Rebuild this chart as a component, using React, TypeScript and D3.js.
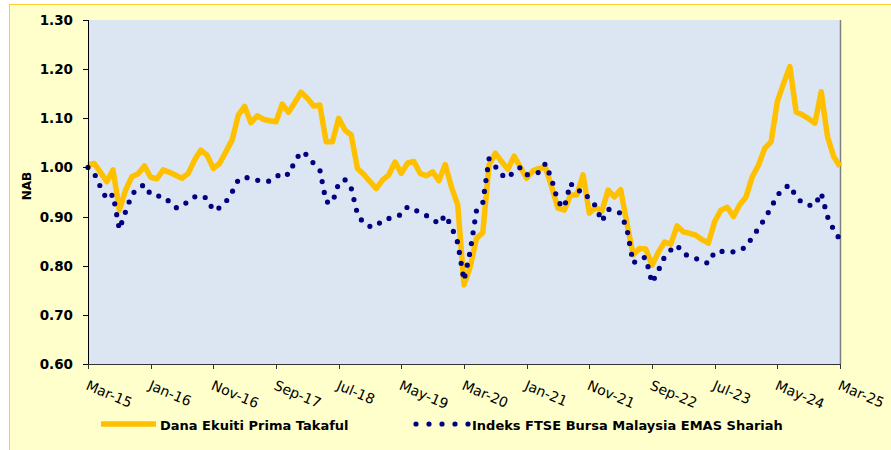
import React from "react";
import * as d3 from "d3";

// ---- data (monthly, Mar-15 .. Mar-25) ----
const tickLabels = [
  "Mar-15", "Jan-16", "Nov-16", "Sep-17", "Jul-18", "May-19", "Mar-20",
  "Jan-21", "Nov-21", "Sep-22", "Jul-23", "May-24", "Mar-25",
];
const yTicks = [0.6, 0.7, 0.8, 0.9, 1.0, 1.1, 1.2, 1.3];

const fundValues = [
  1.005, 1.008, 0.990, 0.971, 0.995, 0.913, 0.954, 0.981, 0.987, 1.003,
  0.980, 0.977, 0.995, 0.990, 0.984, 0.978, 0.988, 1.015, 1.035, 1.025,
  0.998, 1.008, 1.032, 1.056, 1.107, 1.124, 1.091, 1.105, 1.098, 1.095,
  1.093, 1.129, 1.112, 1.132, 1.153, 1.141, 1.125, 1.127, 1.052, 1.052,
  1.100, 1.076, 1.066, 0.998, 0.986, 0.971, 0.957, 0.974, 0.985, 1.011,
  0.988, 1.009, 1.012, 0.988, 0.983, 0.991, 0.973, 1.006, 0.960, 0.924,
  0.761, 0.798, 0.856, 0.867, 1.005, 1.029, 1.012, 0.996, 1.023, 1.000,
  0.978, 0.993, 0.998, 1.000, 0.960, 0.917, 0.913, 0.944, 0.944, 0.985,
  0.907, 0.918, 0.911, 0.954, 0.940, 0.955, 0.886, 0.822, 0.835, 0.834,
  0.801, 0.827, 0.848, 0.844, 0.881, 0.869, 0.866, 0.862, 0.853, 0.846,
  0.890, 0.913, 0.919, 0.900, 0.924, 0.940, 0.981, 1.005, 1.039, 1.052,
  1.134, 1.171, 1.205, 1.113, 1.107, 1.099, 1.090, 1.154, 1.063, 1.022,
  1.002,
];

const indexValues = [
  1.000, 0.988, 0.960, 0.935, 0.945, 0.874, 0.910, 0.945, 0.958, 0.965,
  0.945, 0.942, 0.941, 0.930, 0.918, 0.920, 0.932, 0.940, 0.943, 0.937,
  0.912, 0.918, 0.930, 0.950, 0.975, 0.980, 0.978, 0.974, 0.972, 0.972,
  0.980, 0.990, 0.985, 1.012, 1.032, 1.025, 1.008, 0.995, 0.930, 0.928,
  0.968, 0.975, 0.958, 0.905, 0.886, 0.880, 0.880, 0.893, 0.896, 0.900,
  0.904, 0.920, 0.915, 0.908, 0.902, 0.895, 0.885, 0.903, 0.880, 0.847,
  0.770, 0.830, 0.913, 0.928, 1.018, 1.002, 0.985, 0.978, 0.993, 1.000,
  0.985, 0.987, 0.990, 1.008, 0.975, 0.930, 0.918, 0.968, 0.952, 0.953,
  0.935, 0.922, 0.890, 0.915, 0.911, 0.907, 0.875, 0.805, 0.815, 0.817,
  0.765, 0.790, 0.818, 0.832, 0.842, 0.824, 0.820, 0.815, 0.808, 0.805,
  0.828, 0.829, 0.830, 0.828, 0.832, 0.838, 0.858, 0.876, 0.896, 0.918,
  0.943, 0.958, 0.964, 0.940, 0.928, 0.923, 0.923, 0.948, 0.900, 0.873,
  0.853,
];

const seriesNames = ["Dana Ekuiti Prima Takaful", "Indeks FTSE Bursa Malaysia EMAS Shariah"];
const yTitle = "NAB";

export default function App() {
  const W = 891, H = 450;
  const left = 88, right = 840, top = 20, bottom = 364;
  const n = fundValues.length - 1;
  const x = d3.scaleLinear().domain([0, n]).range([left, right]);
  const y = d3.scaleLinear().domain([0.6, 1.3]).range([bottom, top]);
  const line = d3.line<number>().x((_, i) => x(i)).y((d) => y(d));
  const step = n / (tickLabels.length - 1);
  const font = "'DejaVu Sans', Verdana, sans-serif";
  const orange = "#FFC000";
  const navy = "#000080";

  return (
    <svg width={W} height={H} style={{ position: "fixed", left: 0, top: 0 }} fontFamily={font}>
      <rect x={0} y={0} width={W} height={H} fill="#ffffff" />
      <rect x={9.5} y={4.5} width={W + 10} height={H + 10} fill="#FFFFCC" stroke="#FFCC33" strokeWidth={1} />
      <rect x={left} y={top} width={right - left} height={bottom - top} fill="#DCE6F2" />
      <line x1={right + 0.5} x2={right + 0.5} y1={top} y2={bottom} stroke="#808080" strokeWidth={1.5} />

      {/* series */}
      <path d={line(fundValues) || ""} fill="none" stroke={orange} strokeWidth={5.5} strokeLinejoin="round" />
      <path d={line(indexValues) || ""} fill="none" stroke={navy} strokeWidth={5.2}
        strokeLinecap="round" strokeDasharray="0 11" strokeLinejoin="round" />

      {/* y axis */}
      <line x1={left + 0.5} x2={left + 0.5} y1={top} y2={bottom} stroke="#000" strokeWidth={1} />
      {yTicks.map((t) => (
        <g key={t}>
          <line x1={left - 5} x2={left} y1={Math.round(y(t)) + 0.5} y2={Math.round(y(t)) + 0.5} stroke="#000" />
          <text x={73} y={y(t)} textAnchor="end" dominantBaseline="central" fontSize={13.5} fontWeight="bold" fill="#000">
            {t.toFixed(2)}
          </text>
        </g>
      ))}
      <text transform="translate(30.5,186) rotate(-90)" textAnchor="middle" fontSize={12} fontWeight="bold">{yTitle}</text>

      {/* x axis */}
      <line x1={left} x2={right + 1} y1={bottom + 0.5} y2={bottom + 0.5} stroke="#333" strokeWidth={1} />
      {tickLabels.map((lab, k) => {
        const xx = x(k * step);
        return (
          <g key={lab}>
            <line x1={Math.round(xx) + 0.5} x2={Math.round(xx) + 0.5} y1={bottom} y2={bottom + 5} stroke="#333" />
            <text transform={`translate(${xx - 3},${389}) rotate(23)`} fontSize={14} fill="#000">{lab}</text>
          </g>
        );
      })}

      {/* legend */}
      <line x1={101} x2={156} y1={424} y2={424} stroke={orange} strokeWidth={5.5} />
      <text x={160} y={429.5} fontSize={13} fontWeight="bold">{seriesNames[0]}</text>
      <line x1={416} x2={469} y1={424} y2={424} stroke={navy} strokeWidth={5.2} strokeLinecap="round" strokeDasharray="0 13" />
      <text x={472} y={429.5} fontSize={13} fontWeight="bold">{seriesNames[1]}</text>
    </svg>
  );
}
